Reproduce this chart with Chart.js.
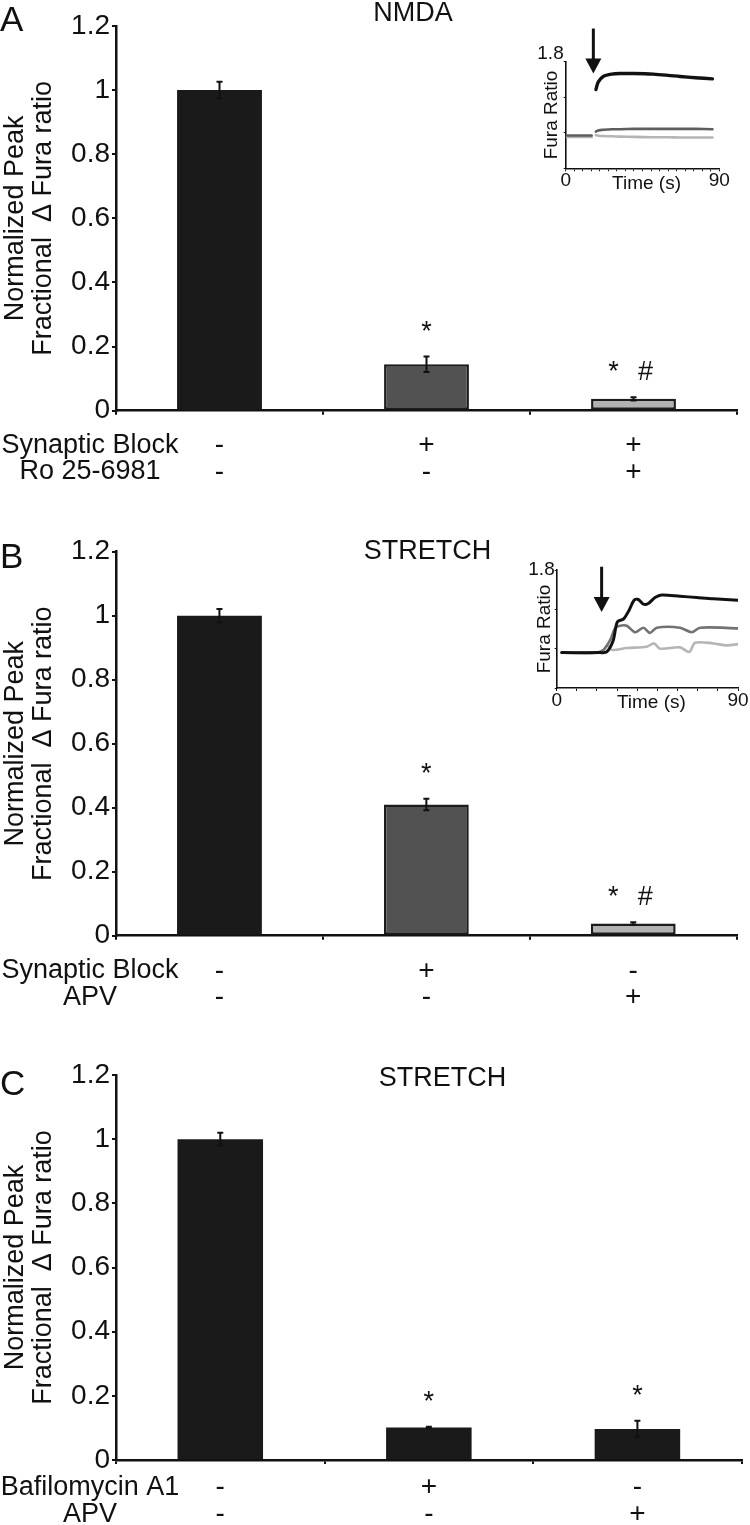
<!DOCTYPE html>
<html>
<head>
<meta charset="utf-8">
<script src="https://cdn.jsdelivr.net/npm/chart.js@4.4.1/dist/chart.umd.min.js"></script>
<style>
  body { margin: 0; background: #fff; }
  #wrap { position: relative; width: 750px; height: 1525px; overflow: hidden; }
  canvas { position: absolute; }
</style>
</head>
<body>
<div id="wrap">
  <canvas id="barA" width="750" height="500" style="left:0;top:0"></canvas>
  <canvas id="insetA" width="250" height="180" style="left:500px;top:20px"></canvas>
  <canvas id="barB" width="750" height="515" style="left:0;top:500px"></canvas>
  <canvas id="insetB" width="260" height="180" style="left:490px;top:540px"></canvas>
  <canvas id="barC" width="750" height="495" style="left:0;top:1030px"></canvas>
</div>
<script>
// ---- data ----
const yTickLabels = ["0", "0.2", "0.4", "0.6", "0.8", "1", "1.2"];
const yTitle = ["Normalized Peak", "Fractional  \u0394 Fura ratio"];

// panel A (NMDA)
const rowNamesA = ["Synaptic Block", "Ro 25-6981"];
const categoriesA = [["-", "-"], ["+", "-"], ["+", "+"]];
const valuesA = [1.0, 0.145, 0.037];
const errorsA = [0.026, 0.024, 0.005];
const starsA = [false, true, true];
const hashesA = [false, false, true];

// panel B (STRETCH)
const rowNamesB = ["Synaptic Block", "APV"];
const categoriesB = [["-", "-"], ["+", "-"], ["-", "+"]];
const valuesB = [1.0, 0.41, 0.038];
const errorsB = [0.021, 0.018, 0.004];
const starsB = [false, true, true];
const hashesB = [false, false, true];

// panel C (STRETCH)
const rowNamesC = ["Bafilomycin A1", "APV"];
const categoriesC = [["-", "-"], ["+", "-"], ["-", "+"]];
const valuesC = [1.0, 0.101, 0.097];
const errorsC = [0.02, 0.003, 0.025];
const starsC = [false, true, true];
const hashesC = [false, false, false];

// inset A traces (time in s, Fura ratio)
const insetATime  = [0.6, 15.2, 16.5, 17.7, 19.1, 22, 27, 31.8, 40, 51.3, 60, 67, 76, 86];
const insetABlack = [null, null, null, 1.33, 1.46, 1.55, 1.59, 1.60, 1.60, 1.59, 1.57, 1.55, 1.53, 1.51];
const insetADark  = [0.555, 0.555, null, 0.62, 0.64, 0.65, 0.66, 0.66, 0.665, 0.665, 0.665, 0.665, 0.665, 0.66];
const insetALight = [0.53, 0.53, null, 0.56, 0.55, 0.545, 0.54, 0.535, 0.53, 0.525, 0.525, 0.52, 0.52, 0.52];
const arrowA = [16.2, 2.36, 1.6]; // time, from, to

// inset B traces
const insetBTimeBlack = [2.5, 21.5, 24.8, 28.1, 30.1, 33.1, 36, 38.4, 40.5, 43, 45.5, 48.8, 52.1, 61.2, 69.5, 77.8, 90];
const insetBBlack     = [0.54, 0.54, 0.55, 0.73, 1.01, 1.05, 1.19, 1.34, 1.35, 1.28, 1.29, 1.38, 1.42, 1.40, 1.38, 1.36, 1.34];
const insetBTimeDark  = [2.5, 19.9, 23.2, 26.5, 29, 31.4, 34.8, 38.9, 43, 46.3, 49.7, 61.2, 67, 71.2, 90];
const insetBDark      = [0.54, 0.54, 0.58, 0.73, 0.91, 0.95, 0.95, 0.85, 0.92, 0.84, 0.92, 0.92, 0.85, 0.92, 0.91];
const insetBTimeLight = [2.5, 19.9, 23, 25.1, 27.3, 34.8, 44.7, 48.3, 51.3, 61.2, 65.8, 68.7, 77.8, 84.4, 90];
const insetBLight     = [0.54, 0.54, 0.57, 0.65, 0.58, 0.61, 0.63, 0.68, 0.60, 0.62, 0.55, 0.69, 0.68, 0.65, 0.67];
const arrowB = [22.3, 1.85, 1.16];

const FONT = '"Liberation Sans", Arial, Helvetica, sans-serif';
const INK = "#111";
Chart.defaults.font.family = FONT;
Chart.defaults.color = INK;

const TICK_LEN = 4;
const ROW_LH = 26.5;

function barPanel(id, p) {
  const decor = {
    id: "decor",
    afterDatasetsDraw(chart) {
      const ctx = chart.ctx, y = chart.scales.y;
      const bars = chart.getDatasetMeta(0).data;
      ctx.save();
      ctx.strokeStyle = INK;
      ctx.fillStyle = INK;
      ctx.lineWidth = 2;
      ctx.font = "27px " + FONT;
      ctx.textAlign = "center";
      ctx.textBaseline = "alphabetic";
      bars.forEach((bar, i) => {
        const v = p.values[i], e = p.errors[i];
        const top = y.getPixelForValue(v + e), bot = y.getPixelForValue(v - e);
        ctx.beginPath();
        ctx.moveTo(bar.x, top); ctx.lineTo(bar.x, bot);
        ctx.moveTo(bar.x - 3, top); ctx.lineTo(bar.x + 3, top);
        ctx.moveTo(bar.x - 3, bot); ctx.lineTo(bar.x + 3, bot);
        ctx.stroke();
        const base = top - 17;
        if (p.stars[i] && p.hashes[i]) {
          ctx.fillText("*", bar.x - 20, base);
          ctx.fillText("#", bar.x + 12, base);
        } else if (p.stars[i]) {
          ctx.fillText("*", bar.x, base);
        }
      });
      ctx.restore();
    },
    afterDraw(chart) {
      const ctx = chart.ctx, xs = chart.scales.x;
      ctx.save();
      ctx.fillStyle = INK;
      // row headers next to the +/- rows
      ctx.font = "27px " + FONT;
      ctx.textAlign = "center";
      ctx.textBaseline = "middle";
      const start = xs.top + TICK_LEN + p.tickPad;
      p.rowNames.forEach((n, i) => ctx.fillText(n, 90, start + ROW_LH * (i + 0.5)));
      // panel letter and title
      ctx.textBaseline = "alphabetic";
      ctx.textAlign = "left";
      ctx.font = "35px " + FONT;
      ctx.fillText(p.letter, 0, p.letterY);
      ctx.textAlign = "center";
      ctx.font = "27px " + FONT;
      ctx.fillText(p.title, p.titleX, p.titleY);
      ctx.restore();
    }
  };

  return new Chart(document.getElementById(id), {
    type: "bar",
    data: {
      labels: p.categories,
      datasets: [{
        data: p.values,
        backgroundColor: p.fills,
        borderColor: "#1c1c1c",
        borderWidth: p.borders,
        borderSkipped: false,
        barPercentage: 0.41,
        categoryPercentage: 1
      }]
    },
    options: {
      responsive: false,
      animation: false,
      events: [],
      layout: { padding: { left: 0, top: p.padTop, right: p.padRight, bottom: 0 } },
      plugins: { legend: { display: false }, tooltip: { enabled: false } },
      scales: {
        y: {
          min: 0, max: 1.2,
          ticks: { stepSize: 0.2, font: { size: 28 }, color: INK, padding: 2,
                   callback: (v, i) => yTickLabels[i] },
          grid: { drawOnChartArea: false, drawTicks: true, tickLength: TICK_LEN, color: INK, lineWidth: 2 },
          border: { color: INK, width: 2.5 },
          title: { display: true, text: yTitle, font: { size: 27, lineHeight: 1.05 }, color: INK, padding: 1 },
          afterFit: s => { s.width = 116; }
        },
        x: {
          grid: { offset: true, drawOnChartArea: false, drawTicks: true, tickLength: TICK_LEN, color: INK, lineWidth: 2 },
          border: { color: INK, width: 2.5 },
          ticks: { font: { size: 28, lineHeight: ROW_LH / 28 }, color: INK, padding: p.tickPad,
                   maxRotation: 0, autoSkip: false },
          afterFit: s => { s.height = p.axisH; }
        }
      }
    },
    plugins: [decor]
  });
}

function pts(times, vals) {
  return times.map((t, i) => ({ x: t, y: vals[i] }));
}

function insetPanel(id, p) {
  const extra = {
    id: "insetDecor",
    afterDraw(chart) {
      const ctx = chart.ctx, x = chart.scales.x, y = chart.scales.y;
      ctx.save();
      // stimulus arrow
      const ax = x.getPixelForValue(p.arrow[0]);
      const y1 = y.getPixelForValue(p.arrow[1]), y2 = y.getPixelForValue(p.arrow[2]);
      ctx.strokeStyle = INK; ctx.fillStyle = INK; ctx.lineWidth = 3;
      ctx.beginPath(); ctx.moveTo(ax, y1); ctx.lineTo(ax, y2 - 12); ctx.stroke();
      ctx.beginPath(); ctx.moveTo(ax - 8, y2 - 15); ctx.lineTo(ax + 8, y2 - 15); ctx.lineTo(ax, y2); ctx.closePath(); ctx.fill();
      // x title on the tick label row
      ctx.font = "19px " + FONT;
      ctx.textAlign = "center";
      ctx.textBaseline = "middle";
      ctx.fillText("Time (s)", (chart.chartArea.left + chart.chartArea.right) / 2 + 4, chart.chartArea.bottom + 15);
      ctx.restore();
    }
  };
  return new Chart(document.getElementById(id), {
    type: "line",
    data: {
      datasets: [
        { data: pts(p.tBlack, p.black), borderColor: "#111", borderWidth: p.wBlack },
        { data: pts(p.tDark, p.dark), borderColor: p.darkColor, borderWidth: 2.6 },
        { data: pts(p.tLight, p.light), borderColor: "#b5b5b5", borderWidth: 2.6 }
      ]
    },
    options: {
      responsive: false,
      animation: false,
      events: [],
      spanGaps: false,
      layout: { padding: p.padding },
      elements: { point: { radius: 0 }, line: { tension: 0.3, borderCapStyle: "round" } },
      plugins: { legend: { display: false }, tooltip: { enabled: false } },
      scales: {
        x: {
          type: "linear", min: 0, max: 90,
          ticks: { stepSize: p.xStep, autoSkip: false, maxRotation: 0, padding: 0,
                   font: { size: 19, lineHeight: 1 }, color: INK,
                   callback: v => (v === 0 || v === 90) ? String(v) : "" },
          grid: { drawOnChartArea: false, drawTicks: true, tickLength: 3, color: INK, lineWidth: 1 },
          border: { color: INK, width: 1.6 },
          afterFit: s => { s.height = p.xH; }
        },
        y: {
          min: 0, max: 1.8,
          ticks: { stepSize: 0.6, padding: 0, font: { size: 19, lineHeight: 1 }, color: INK,
                   labelOffset: p.labelOffset,
                   callback: v => Math.abs(v - 1.8) < 1e-6 ? "1.8" : "" },
          grid: { drawOnChartArea: false, drawTicks: true, tickLength: 2, color: INK, lineWidth: 1 },
          border: { color: INK, width: 1.6 },
          title: { display: true, text: "Fura Ratio", font: { size: 19, lineHeight: 1.2 },
                   color: INK, padding: { top: p.titlePad, bottom: 0 } },
          afterFit: s => { s.width = p.yW; }
        }
      }
    },
    plugins: [extra]
  });
}

barPanel("barA", {
  categories: categoriesA, values: valuesA, errors: errorsA, stars: starsA, hashes: hashesA,
  rowNames: rowNamesA, fills: ["#1a1a1a", "#525252", "#b2b2b2"], borders: [0, 2.5, 2.5],
  padTop: 26, padRight: 13, axisH: 89.3, tickPad: 17.5,
  letter: "A", letterY: 31, title: "NMDA", titleX: 413, titleY: 21
});
insetPanel("insetA", {
  tBlack: insetATime, black: insetABlack, tDark: insetATime, dark: insetADark,
  tLight: insetATime, light: insetALight, arrow: arrowA, darkColor: "#5e5e5e", wBlack: 3.4,
  padding: { left: 36, top: 41.7, right: 30.7, bottom: 0 }, yW: 29.7, xH: 31.7, xStep: 5,
  labelOffset: -8, titlePad: 4.6
});
barPanel("barB", {
  categories: categoriesB, values: valuesB, errors: errorsB, stars: starsB, hashes: hashesB,
  rowNames: rowNamesB, fills: ["#1a1a1a", "#525252", "#b2b2b2"], borders: [0, 2.5, 2.5],
  padTop: 51.7, padRight: 13.3, axisH: 79.3, tickPad: 18,
  letter: "B", letterY: 68, title: "STRETCH", titleX: 427.5, titleY: 59
});
insetPanel("insetB", {
  tBlack: insetBTimeBlack, black: insetBBlack, tDark: insetBTimeDark, dark: insetBDark,
  tLight: insetBTimeLight, light: insetBLight, arrow: arrowB, darkColor: "#727272", wBlack: 3,
  padding: { left: 34, top: 30, right: 12, bottom: 0 }, yW: 32.7, xH: 32, xStep: 10,
  labelOffset: 0, titlePad: 9.1
});
barPanel("barC", {
  categories: categoriesC, values: valuesC, errors: errorsC, stars: starsC, hashes: hashesC,
  rowNames: rowNamesC, fills: ["#1a1a1a", "#1a1a1a", "#1a1a1a"], borders: [0, 0, 0],
  padTop: 45, padRight: 8.3, axisH: 65, tickPad: 10.5,
  letter: "C", letterY: 65, title: "STRETCH", titleX: 442.5, titleY: 56
});
</script>
</body>
</html>
